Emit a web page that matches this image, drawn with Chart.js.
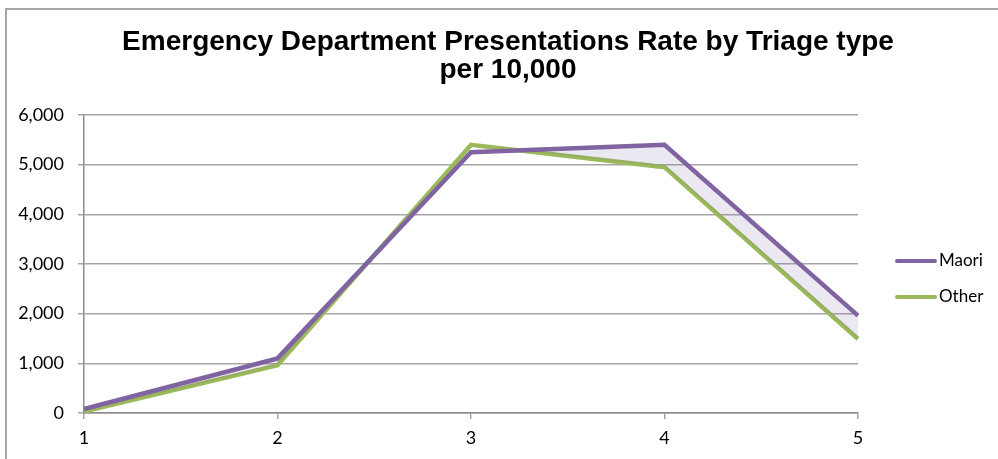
<!DOCTYPE html>
<html>
<head>
<meta charset="utf-8">
<script src="https://cdn.jsdelivr.net/npm/chart.js@4.4.1/dist/chart.umd.min.js"></script>
<style>
  html, body { margin: 0; padding: 0; background: #ffffff; }
  #wrap { position: relative; width: 998px; height: 459px; }
  #frame { position: absolute; left: 5px; top: 8px; right: 0; bottom: 0;
           border-left: 2px solid #a6a6a6; border-top: 2px solid #a6a6a6; pointer-events: none; }
</style>
</head>
<body>
<div id="wrap">
  <canvas id="chart" width="998" height="459"></canvas>
  <div id="frame"></div>
</div>
<script>
// Triage categories and rates per 10,000 population
const triageLabels = ['1', '2', '3', '4', '5'];
const maoriRates = [80, 1100, 5250, 5400, 1960];
const otherRates = [30, 960, 5400, 4950, 1490];
const seriesNames = ['Maori', 'Other'];
const titleLines = ['Emergency Department Presentations Rate by Triage type', 'per 10,000'];

const PURPLE = '#8064a2';
const GREEN = '#9bbb59';
const GRID = '#a6a6a6';
const TICK_FONT = { family: 'Lato', size: 18 };

// Legend drawn on the right, beside the plot area
const sideLegend = {
  id: 'sideLegend',
  afterDraw(chart) {
    const { ctx, chartArea } = chart;
    const midY = (chartArea.top + chartArea.bottom) / 2;
    const x0 = chartArea.right + 37;
    ctx.save();
    ctx.font = '17px Lato';
    ctx.textBaseline = 'middle';
    ctx.textAlign = 'left';
    chart.data.datasets.forEach((ds, i) => {
      const y = midY - 3 + i * 36;
      ctx.strokeStyle = ds.borderColor;
      ctx.lineWidth = 4;
      ctx.lineCap = 'round';
      ctx.beginPath();
      ctx.moveTo(x0 + 2, y);
      ctx.lineTo(x0 + 40, y);
      ctx.stroke();
      ctx.fillStyle = '#000000';
      ctx.fillText(ds.label, x0 + 44, y);
    });
    ctx.restore();
  }
};

new Chart(document.getElementById('chart'), {
  type: 'line',
  data: {
    labels: triageLabels,
    datasets: [
      {
        label: seriesNames[0],
        data: maoriRates,
        borderColor: PURPLE,
        backgroundColor: PURPLE,
        borderWidth: 4.5,
        pointRadius: 0,
        tension: 0,
        fill: { target: 1, above: 'rgba(128,100,162,0.15)', below: 'rgba(0,0,0,0)' }
      },
      {
        label: seriesNames[1],
        data: otherRates,
        borderColor: GREEN,
        backgroundColor: GREEN,
        borderWidth: 4.5,
        pointRadius: 0,
        tension: 0,
        fill: false
      }
    ]
  },
  options: {
    responsive: false,
    animation: false,
    layout: { padding: { left: 18, right: 0, top: 0, bottom: 0 } },
    plugins: {
      legend: { display: false },
      tooltip: { enabled: false },
      title: {
        display: true,
        text: titleLines,
        color: '#000000',
        font: { family: 'Liberation Sans', size: 28, weight: 'bold', lineHeight: 1.0 },
        padding: { top: 28, bottom: 31 }
      }
    },
    scales: {
      x: {
        type: 'category',
        offset: false,
        grid: { display: true, drawOnChartArea: false, drawTicks: true, tickLength: 6, color: GRID, lineWidth: 1.5 },
        border: { display: true, color: '#8c8c8c', width: 1.5 },
        ticks: { color: '#000000', font: TICK_FONT, padding: 8, maxRotation: 0 },
        afterFit(scale) { scale.height = 46; }
      },
      y: {
        min: 0,
        max: 6000,
        grid: { color: GRID, lineWidth: 1.5, drawTicks: true, tickLength: 6 },
        border: { display: true, color: '#8c8c8c', width: 1.5 },
        ticks: {
          stepSize: 1000,
          color: '#000000',
          font: TICK_FONT,
          padding: 14,
          callback: v => v.toLocaleString('en-US')
        },
        afterFit(scale) { scale.width = 66; }
      },
      side: {
        position: 'right',
        display: true,
        grid: { display: false },
        border: { display: false },
        ticks: { display: false },
        afterFit(scale) { scale.width = 140; }
      }
    }
  },
  plugins: [sideLegend]
});
</script>
</body>
</html>
